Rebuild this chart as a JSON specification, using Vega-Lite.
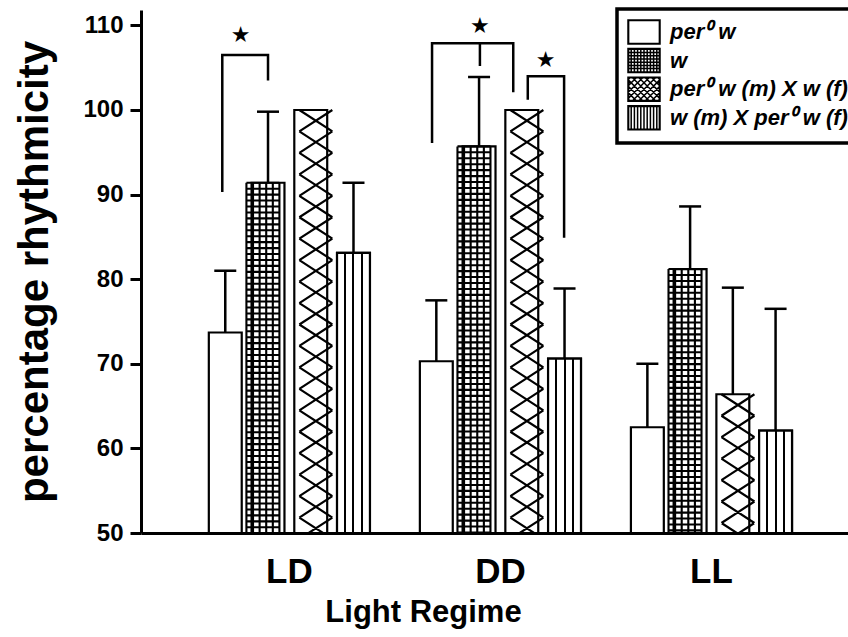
{
  "$schema": "https://vega.github.io/schema/vega-lite/v6.json",
  "width": 707,
  "height": 523,
  "autosize": "none",
  "padding": {"left": 141, "top": 10, "right": 0, "bottom": 104},
  "background": "white",
  "config": {
    "view": {"stroke": null},
    "font": "Liberation Sans",
    "axis": {
      "grid": false,
      "domainColor": "black",
      "domainWidth": 3,
      "tickColor": "black",
      "labelColor": "black",
      "titleColor": "black",
      "labelFont": "Liberation Sans",
      "titleFont": "Liberation Sans",
      "labelFontWeight": "bold",
      "titleFontWeight": "bold"
    },
    "legend": {
      "orient": "none",
      "legendX": 476,
      "legendY": -1,
      "padding": 10,
      "strokeColor": "black",
      "fillColor": "white",
      "labelFont": "Liberation Sans",
      "labelFontSize": 22,
      "labelFontStyle": "italic",
      "labelFontWeight": "bold",
      "labelColor": "black",
      "labelLimit": 400,
      "labelOffset": 17,
      "rowPadding": -1.4,
      "symbolSize": 576,
      "symbolStrokeColor": "black",
      "symbolStrokeWidth": 1.5,
      "symbolFillColor": "white"
    }
  },
  "datasets": {
    "bars": [
      {"regime": "LD", "genotype": "per⁰ w", "pct": 73.7, "upper": 81.0},
      {"regime": "LD", "genotype": "w", "pct": 91.4, "upper": 99.8},
      {"regime": "LD", "genotype": "per⁰ w (m) X w (f)", "pct": 100, "upper": null},
      {"regime": "LD", "genotype": "w (m) X per⁰ w (f)", "pct": 83.1, "upper": 91.4},
      {"regime": "DD", "genotype": "per⁰ w", "pct": 70.3, "upper": 77.5},
      {"regime": "DD", "genotype": "w", "pct": 95.7, "upper": 103.9},
      {"regime": "DD", "genotype": "per⁰ w (m) X w (f)", "pct": 100, "upper": null},
      {"regime": "DD", "genotype": "w (m) X per⁰ w (f)", "pct": 70.6, "upper": 78.9},
      {"regime": "LL", "genotype": "per⁰ w", "pct": 62.5, "upper": 70.0},
      {"regime": "LL", "genotype": "w", "pct": 81.2, "upper": 88.6},
      {"regime": "LL", "genotype": "per⁰ w (m) X w (f)", "pct": 66.4, "upper": 79.0},
      {"regime": "LL", "genotype": "w (m) X per⁰ w (f)", "pct": 62.1, "upper": 76.5}
    ],
    "brackets": [
      {"id": "b1", "k": 1, "regime": "LD", "pos": 0.43, "v": 90.3},
      {"id": "b1", "k": 2, "regime": "LD", "pos": 0.43, "v": 106.5},
      {"id": "b1", "k": 3, "regime": "LD", "pos": 1.5, "v": 106.5},
      {"id": "b1", "k": 4, "regime": "LD", "pos": 1.5, "v": 103.5},
      {"id": "b2", "k": 1, "regime": "DD", "pos": 0.4, "v": 96.1},
      {"id": "b2", "k": 2, "regime": "DD", "pos": 0.4, "v": 107.9},
      {"id": "b2", "k": 3, "regime": "DD", "pos": 2.3, "v": 107.9},
      {"id": "b2", "k": 4, "regime": "DD", "pos": 2.3, "v": 102.1},
      {"id": "b3", "k": 1, "regime": "DD", "pos": 1.52, "v": 107.9},
      {"id": "b3", "k": 2, "regime": "DD", "pos": 1.52, "v": 105.2},
      {"id": "b4", "k": 1, "regime": "DD", "pos": 2.64, "v": 101.2},
      {"id": "b4", "k": 2, "regime": "DD", "pos": 2.64, "v": 104.0},
      {"id": "b4", "k": 3, "regime": "DD", "pos": 3.49, "v": 104.0},
      {"id": "b4", "k": 4, "regime": "DD", "pos": 3.49, "v": 84.9}
    ],
    "stars": [
      {"regime": "LD", "pos": 0.86, "v": 108.9},
      {"regime": "DD", "pos": 1.52, "v": 109.9},
      {"regime": "DD", "pos": 3.06, "v": 105.9}
    ]
  },
  "layer": [
    {
      "data": {"name": "bars"},
      "mark": {"type": "bar", "stroke": "black", "strokeWidth": 2.2},
      "encoding": {
        "x": {
          "field": "regime", "type": "nominal", "sort": ["LD", "DD", "LL"],
          "scale": {"paddingInner": 0.19, "paddingOuter": 0.27, "align": 0.552},
          "axis": {
            "title": "Light Regime", "ticks": false, "labelAngle": 0,
            "labelFontSize": 35, "labelPadding": 21,
            "titleFontSize": 31, "titleX": 282, "titleY": 88, "titleBaseline": "alphabetic"
          }
        },
        "xOffset": {
          "field": "genotype", "type": "nominal",
          "scale": {"domain": ["per⁰ w", "w", "per⁰ w (m) X w (f)", "w (m) X per⁰ w (f)"], "paddingInner": 0.23, "paddingOuter": 0.115}
        },
        "y": {
          "field": "pct", "type": "quantitative",
          "scale": {"domain": [50, 111.82], "nice": false, "zero": false},
          "axis": {
            "title": "percentage rhythmicity", "values": [50, 60, 70, 80, 90, 100, 110],
            "tickSize": 11, "tickWidth": 3, "labelFontSize": 24, "labelPadding": 7,
            "titleFontSize": 42, "titleX": -94, "titleBaseline": "alphabetic"
          }
        },
        "y2": {"datum": 50},
        "fill": {
          "field": "genotype", "type": "nominal",
          "scale": {"domain": ["per⁰ w", "w", "per⁰ w (m) X w (f)", "w (m) X per⁰ w (f)"], "range": ["white", "white", "white", "white"]},
          "legend": {
            "title": null,
            "encode": {
              "legend": {"update": {"strokeWidth": {"value": 3.5}}},
              "symbols": {
                "update": {
                  "fill": {"value": "white"},
                  "stroke": {"value": "black"},
                  "strokeWidth": {"value": 1.5},
                  "opacity": {"value": 1},
                  "shape": [
                    {"test": "datum.value === 'w'", "value": "M-1 -1H1.667V1H-1ZM-0.95 -0.95H1.617V0.95H-0.95ZM-0.733 -1L-0.733 1M-0.467 -1L-0.467 1M-0.2 -1L-0.2 1M0.067 -1L0.067 1M0.333 -1L0.333 1M0.6 -1L0.6 1M0.867 -1L0.867 1M1.133 -1L1.133 1M1.4 -1L1.4 1M-1 -0.667L1.667 -0.667M-1 -0.4L1.667 -0.4M-1 -0.133L1.667 -0.133M-1 0.133L1.667 0.133M-1 0.4L1.667 0.4M-1 0.667L1.667 0.667"},
                    {"test": "datum.value === 'per⁰ w (m) X w (f)'", "value": "M-1 -1H1.667V1H-1ZM-0.95 -0.95H1.617V0.95H-0.95ZM-0.667 -1L1.333 1M-1 -0.8L0.8 1M-1 -0.267L0.267 1M-1 0.267L-0.267 1M-1 0.8L-0.8 1M-0.133 -1L1.667 0.8M0.4 -1L1.667 0.267M0.933 -1L1.667 -0.267M1.467 -1L1.667 -0.8M1.333 -1L-0.667 1M1.667 -0.8L-0.133 1M1.667 -0.267L0.4 1M1.667 0.267L0.933 1M1.667 0.8L1.467 1M0.8 -1L-1 0.8M0.267 -1L-1 0.267M-0.267 -1L-1 -0.267M-0.8 -1L-1 -0.8"},
                    {"test": "datum.value === 'w (m) X per⁰ w (f)'", "value": "M-1 -1H1.667V1H-1ZM-0.95 -0.95H1.617V0.95H-0.95ZM-0.733 -1L-0.733 1M-0.467 -1L-0.467 1M-0.2 -1L-0.2 1M0.067 -1L0.067 1M0.333 -1L0.333 1M0.6 -1L0.6 1M0.867 -1L0.867 1M1.133 -1L1.133 1M1.4 -1L1.4 1"},
                    {"value": "M-1 -1H1.667V1H-1ZM-0.95 -0.95H1.617V0.95H-0.95Z"}
                  ]
                }
              }
            }
          }
        }
      }
    },
    {
      "data": {"name": "bars"},
      "transform": [{"filter": "datum.genotype === 'w (m) X per⁰ w (f)'"}],
      "mark": {
        "type": "bar", "stroke": "black", "strokeWidth": 2.2,
        "fill": {
          "gradient": "linear", "x1": 0, "y1": 0, "x2": 1, "y2": 0,
          "stops": [
            {"offset": 0, "color": "white"},
            {"offset": 0.22, "color": "white"},
            {"offset": 0.22, "color": "black"},
            {"offset": 0.28, "color": "black"},
            {"offset": 0.28, "color": "white"},
            {"offset": 0.47, "color": "white"},
            {"offset": 0.47, "color": "black"},
            {"offset": 0.53, "color": "black"},
            {"offset": 0.53, "color": "white"},
            {"offset": 0.72, "color": "white"},
            {"offset": 0.72, "color": "black"},
            {"offset": 0.78, "color": "black"},
            {"offset": 0.78, "color": "white"},
            {"offset": 1, "color": "white"}
          ]
        }
      },
      "encoding": {
        "x": {"field": "regime", "type": "nominal", "sort": ["LD", "DD", "LL"]},
        "xOffset": {"field": "genotype", "type": "nominal", "scale": {"domain": ["per⁰ w", "w", "per⁰ w (m) X w (f)", "w (m) X per⁰ w (f)"], "paddingInner": 0.23, "paddingOuter": 0.115}},
        "y": {"field": "pct", "type": "quantitative"},
        "y2": {"datum": 50}
      }
    },
    {
      "data": {"name": "bars"},
      "transform": [{"filter": "datum.genotype === 'w'"}],
      "mark": {
        "type": "point", "filled": false, "stroke": "black", "strokeWidth": 2.1, "strokeCap": "butt", "opacity": 1, "size": 1089, "clip": true,
        "shape": "M-1 0V24.5M-0.6 0V24.5M-0.2 0V24.5M0.2 0V24.5M0.6 0V24.5M1 0V24.5M-1 0H1M-1 0.36H1M-1 0.72H1M-1 1.08H1M-1 1.44H1M-1 1.8H1M-1 2.16H1M-1 2.52H1M-1 2.88H1M-1 3.24H1M-1 3.6H1M-1 3.96H1M-1 4.32H1M-1 4.68H1M-1 5.04H1M-1 5.4H1M-1 5.76H1M-1 6.12H1M-1 6.48H1M-1 6.84H1M-1 7.2H1M-1 7.56H1M-1 7.92H1M-1 8.28H1M-1 8.64H1M-1 9H1M-1 9.36H1M-1 9.72H1M-1 10.08H1M-1 10.44H1M-1 10.8H1M-1 11.16H1M-1 11.52H1M-1 11.88H1M-1 12.24H1M-1 12.6H1M-1 12.96H1M-1 13.32H1M-1 13.68H1M-1 14.04H1M-1 14.4H1M-1 14.76H1M-1 15.12H1M-1 15.48H1M-1 15.84H1M-1 16.2H1M-1 16.56H1M-1 16.92H1M-1 17.28H1M-1 17.64H1M-1 18H1M-1 18.36H1M-1 18.72H1M-1 19.08H1M-1 19.44H1M-1 19.8H1M-1 20.16H1M-1 20.52H1M-1 20.88H1M-1 21.24H1M-1 21.6H1M-1 21.96H1M-1 22.32H1M-1 22.68H1M-1 23.04H1M-1 23.4H1M-1 23.76H1M-1 24.12H1"
      },
      "encoding": {
        "x": {"field": "regime", "type": "nominal", "sort": ["LD", "DD", "LL"]},
        "xOffset": {"field": "genotype", "type": "nominal", "scale": {"domain": ["per⁰ w", "w", "per⁰ w (m) X w (f)", "w (m) X per⁰ w (f)"], "paddingInner": 0.23, "paddingOuter": 0.115}},
        "y": {"field": "pct", "type": "quantitative"}
      }
    },
    {
      "data": {"name": "bars"},
      "transform": [{"filter": "datum.genotype === 'per⁰ w (m) X w (f)'"}],
      "mark": {
        "type": "point", "filled": false, "stroke": "black", "strokeWidth": 2.2, "strokeCap": "butt", "opacity": 1, "size": 1089, "clip": true,
        "shape": "M-1 0L1 1.3M-1 1.3L1 2.6M-1 2.6L1 3.9M-1 3.9L1 5.2M-1 5.2L1 6.5M-1 6.5L1 7.8M-1 7.8L1 9.1M-1 9.1L1 10.4M-1 10.4L1 11.7M-1 11.7L1 13M-1 13L1 14.3M-1 14.3L1 15.6M-1 15.6L1 16.9M-1 16.9L1 18.2M-1 18.2L1 19.5M-1 19.5L1 20.8M-1 20.8L1 22.1M-1 22.1L1 23.4M-1 23.4L1 24.7M-1 24.7L1 26M-1 1.3L1 0M-1 2.6L1 1.3M-1 3.9L1 2.6M-1 5.2L1 3.9M-1 6.5L1 5.2M-1 7.8L1 6.5M-1 9.1L1 7.8M-1 10.4L1 9.1M-1 11.7L1 10.4M-1 13L1 11.7M-1 14.3L1 13M-1 15.6L1 14.3M-1 16.9L1 15.6M-1 18.2L1 16.9M-1 19.5L1 18.2M-1 20.8L1 19.5M-1 22.1L1 20.8M-1 23.4L1 22.1M-1 24.7L1 23.4M-1 26L1 24.7"
      },
      "encoding": {
        "x": {"field": "regime", "type": "nominal", "sort": ["LD", "DD", "LL"]},
        "xOffset": {"field": "genotype", "type": "nominal", "scale": {"domain": ["per⁰ w", "w", "per⁰ w (m) X w (f)", "w (m) X per⁰ w (f)"], "paddingInner": 0.23, "paddingOuter": 0.115}},
        "y": {"field": "pct", "type": "quantitative"}
      }
    },
    {
      "data": {"name": "bars"},
      "transform": [{"filter": "isValid(datum.upper)"}],
      "mark": {"type": "rule", "color": "black", "strokeWidth": 2.5},
      "encoding": {
        "x": {"field": "regime", "type": "nominal", "sort": ["LD", "DD", "LL"]},
        "xOffset": {"field": "genotype", "type": "nominal", "scale": {"domain": ["per⁰ w", "w", "per⁰ w (m) X w (f)", "w (m) X per⁰ w (f)"], "paddingInner": 0.23, "paddingOuter": 0.115}},
        "y": {"field": "pct", "type": "quantitative"},
        "y2": {"field": "upper"}
      }
    },
    {
      "data": {"name": "bars"},
      "transform": [{"filter": "isValid(datum.upper)"}],
      "mark": {"type": "tick", "color": "black", "size": 22, "thickness": 2.5, "opacity": 1},
      "encoding": {
        "x": {"field": "regime", "type": "nominal", "sort": ["LD", "DD", "LL"]},
        "xOffset": {"field": "genotype", "type": "nominal", "scale": {"domain": ["per⁰ w", "w", "per⁰ w (m) X w (f)", "w (m) X per⁰ w (f)"], "paddingInner": 0.23, "paddingOuter": 0.115}},
        "y": {"field": "upper", "type": "quantitative"}
      }
    },
    {
      "mark": {"type": "rule", "color": "black", "strokeWidth": 3},
      "encoding": {"y": {"datum": 111.82}}
    },
    {
      "data": {"name": "brackets"},
      "mark": {"type": "line", "color": "black", "strokeWidth": 2.5, "strokeJoin": "miter"},
      "encoding": {
        "x": {"field": "regime", "type": "nominal", "sort": ["LD", "DD", "LL"]},
        "xOffset": {"field": "pos", "type": "quantitative", "scale": {"domain": [0, 4], "nice": false, "zero": false}},
        "y": {"field": "v", "type": "quantitative"},
        "detail": {"field": "id"},
        "order": {"field": "k"}
      }
    },
    {
      "data": {"name": "stars"},
      "mark": {"type": "text", "text": "★", "font": "DejaVu Sans", "fontSize": 22, "color": "black", "baseline": "middle"},
      "encoding": {
        "x": {"field": "regime", "type": "nominal", "sort": ["LD", "DD", "LL"]},
        "xOffset": {"field": "pos", "type": "quantitative", "scale": {"domain": [0, 4], "nice": false, "zero": false}},
        "y": {"field": "v", "type": "quantitative"}
      }
    }
  ],
  "resolve": {"scale": {"xOffset": "independent"}}
}
